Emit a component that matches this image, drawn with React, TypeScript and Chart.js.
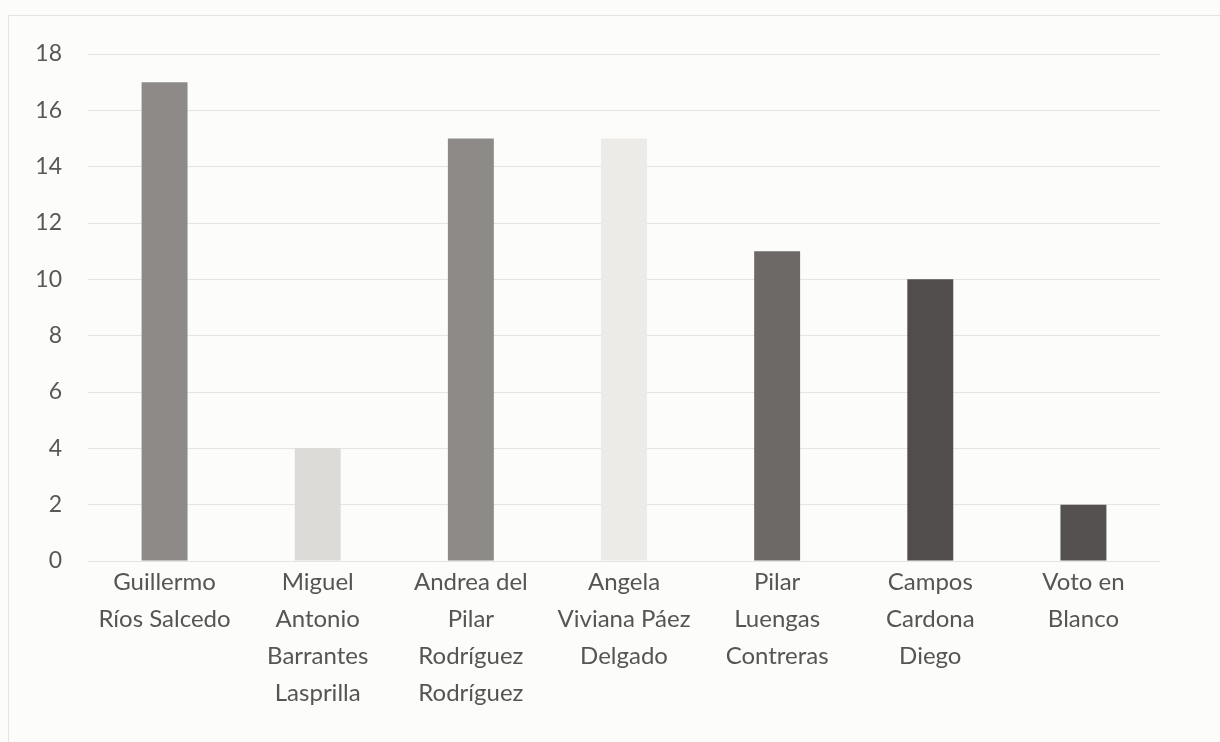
import React, { useEffect, useRef } from "react";
import { Chart, registerables } from "chart.js";

Chart.register(...registerables);

const categories: string[][] = [
  ["Guillermo", "Ríos Salcedo"],
  ["Miguel", "Antonio", "Barrantes", "Lasprilla"],
  ["Andrea del", "Pilar", "Rodríguez", "Rodríguez"],
  ["Angela", "Viviana Páez", "Delgado"],
  ["Pilar", "Luengas", "Contreras"],
  ["Campos", "Cardona", "Diego"],
  ["Voto en", "Blanco"],
];

const votes: number[] = [17, 4, 15, 15, 11, 10, 2];

const barColors: string[] = [
  "#8e8a88",
  "#dddbd8",
  "#8d8a88",
  "#ecebe8",
  "#6c6967",
  "#504d4c",
  "#545150",
];

const yTicks: number[] = [0, 2, 4, 6, 8, 10, 12, 14, 16, 18];

export default function App() {
  const canvasRef = useRef<HTMLCanvasElement | null>(null);

  useEffect(() => {
    if (!canvasRef.current) return;
    const chart = new Chart(canvasRef.current, {
      type: "bar",
      data: {
        labels: categories,
        datasets: [
          {
            data: votes,
            backgroundColor: barColors,
            borderWidth: 0,
            categoryPercentage: 1,
            barPercentage: 0.3,
          },
        ],
      },
      options: {
        responsive: false,
        animation: false,
        layout: { padding: { top: 54, right: 60, left: 0, bottom: 0 } },
        plugins: {
          legend: { display: false },
          tooltip: { enabled: false },
        },
        scales: {
          x: {
            grid: { display: false, drawTicks: false },
            border: { display: false },
            ticks: {
              color: "#555555",
              padding: 3,
              maxRotation: 0,
              autoSkip: false,
              font: { family: "Lato", size: 24, lineHeight: 1.54 },
            },
            afterFit: (scale: any) => {
              scale.height = 181;
            },
          },
          y: {
            min: 0,
            max: 18,
            afterBuildTicks: (scale: any) => {
              scale.ticks = yTicks.map((v) => ({ value: v }));
            },
            grid: { color: "#e4e4e2", lineWidth: 1, drawTicks: false },
            border: { display: false },
            ticks: {
              color: "#585858",
              padding: 26,
              font: { family: "Lato", size: 23 },
            },
            afterFit: (scale: any) => {
              scale.width = 88;
            },
          },
        },
      },
    });
    return () => chart.destroy();
  }, []);

  return (
    <div
      style={{
        position: "fixed",
        left: 0,
        top: 0,
        width: 1220,
        height: 742,
        background: "#fcfcfa",
        overflow: "hidden",
      }}
    >
      <div
        style={{
          position: "absolute",
          left: 8,
          top: 15,
          width: 1230,
          height: 760,
          borderLeft: "1px solid #e4e4e2",
          borderTop: "1px solid #e4e4e2",
        }}
      />
      <canvas
        ref={canvasRef}
        width={1220}
        height={742}
        style={{ position: "absolute", left: 0, top: 0 }}
      />
    </div>
  );
}
